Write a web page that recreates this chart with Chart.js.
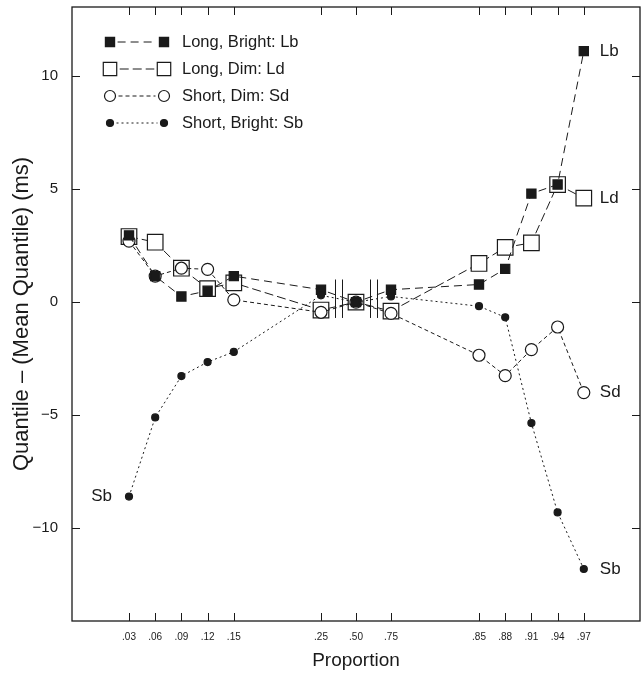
<!DOCTYPE html>
<html>
<head>
<meta charset="utf-8">
<script src="https://cdn.jsdelivr.net/npm/chart.js@4.4.0/dist/chart.umd.min.js"></script>
<style>
  html, body { margin: 0; padding: 0; background: #fff; }
  canvas { display: block; }
</style>
</head>
<body>
<canvas id="myChart" width="643" height="683"></canvas>

<script>
    const proportions = ['.03', '.06', '.09', '.12', '.15', '.25', '.50', '.75', '.85', '.88', '.91', '.94', '.97'];
    const longBright  = [2.95, 1.15, 0.25, 0.5, 1.15, 0.55, 0, 0.55, 0.78, 1.47, 4.8, 5.2, 11.1];
    const longDim     = [2.9, 2.65, 1.5, 0.6, 0.85, -0.35, 0, -0.4, 1.71, 2.42, 2.62, 5.2, 4.6];
    const shortDim    = [2.7, 1.15, 1.5, 1.45, 0.1, -0.45, 0, -0.5, -2.35, -3.25, -2.1, -1.1, -4.0];
    const shortBright = [-8.6, -5.1, -3.27, -2.65, -2.2, 0.3, 0, 0.25, -0.18, -0.67, -5.35, -9.3, -11.8];
    const yTicks = [-10, -5, 0, 5, 10];
    const legendLabels = ['Long, Bright: Lb', 'Long, Dim: Ld', 'Short, Dim: Sd', 'Short, Bright: Sb'];
    const endLabels = ['Lb', 'Ld', 'Sd', 'Sb'];

    const ink = '#1a1a1a';
    const font = "'Liberation Sans', Arial, sans-serif";

    // three clusters of proportions, wider gaps between clusters
    const xPos = proportions.map((p, i) => {
        if (i < 5) return i * 26.2;
        if (i < 8) return 192 + (i - 5) * 35;
        return 350 + (i - 8) * 26.2;
    });
    const pts = arr => arr.map((v, i) => ({x: xPos[i], y: v}));

    const series = [
        {label: legendLabels[0], data: pts(longBright), borderDash: [8, 5], pointStyle: 'rect',
            pointRadius: 6.5, pointBackgroundColor: ink, order: 1, legendRadius: 6.5},
        {label: legendLabels[1], data: pts(longDim), borderDash: [9, 4], pointStyle: 'rect',
            pointRadius: 11, pointBackgroundColor: '#fff', order: 3, legendRadius: 9.5},
        {label: legendLabels[2], data: pts(shortDim), borderDash: [4, 3], pointStyle: 'circle',
            pointRadius: 6, pointBackgroundColor: '#fff', order: 2, legendRadius: 5.5},
        {label: legendLabels[3], data: pts(shortBright), borderDash: [2, 3], pointStyle: 'circle',
            pointRadius: 3.5, pointBackgroundColor: ink, order: 0, legendRadius: 3.5}
    ].map(s => Object.assign({
        borderColor: ink, borderWidth: 1, pointBorderColor: ink, pointBorderWidth: 1.2,
        fill: false, tension: 0
    }, s));

    // keep the plot box where the reference has it
    const noPad = axis => {
        axis.paddingTop = 0; axis.paddingBottom = 0;
        axis.paddingLeft = 0; axis.paddingRight = 0;
    };

    const decorations = {
        id: 'decorations',
        afterDatasetsDraw(chart) {
            const {ctx, chartArea: a, scales: {x, y}} = chart;
            ctx.save();
            ctx.strokeStyle = ink;
            ctx.fillStyle = ink;

            // frame
            ctx.lineWidth = 1.3;
            ctx.strokeRect(a.left, a.top, a.right - a.left, a.bottom - a.top);

            // inward tick marks
            ctx.lineWidth = 1;
            ctx.beginPath();
            xPos.forEach(v => {
                const px = Math.round(x.getPixelForValue(v)) + 0.5;
                ctx.moveTo(px, a.bottom); ctx.lineTo(px, a.bottom - 8);
                ctx.moveTo(px, a.top); ctx.lineTo(px, a.top + 8);
            });
            yTicks.forEach(v => {
                const py = Math.round(y.getPixelForValue(v)) + 0.5;
                ctx.moveTo(a.left, py); ctx.lineTo(a.left + 8, py);
                ctx.moveTo(a.right, py); ctx.lineTo(a.right - 8, py);
            });
            ctx.stroke();

            // scale breaks around .50
            ctx.beginPath();
            [[5, 6], [6, 7]].forEach(([i, j]) => {
                const mid = (x.getPixelForValue(xPos[i]) + x.getPixelForValue(xPos[j])) / 2;
                [-3.3, 3.3].forEach(d => {
                    const px = Math.round(mid + d) + 0.5;
                    ctx.moveTo(px, y.getPixelForValue(1.0));
                    ctx.lineTo(px, y.getPixelForValue(-0.7));
                });
            });
            ctx.stroke();

            // end labels
            ctx.font = '17px ' + font;
            ctx.textBaseline = 'middle';
            ctx.textAlign = 'left';
            chart.data.datasets.forEach((ds, k) => {
                const last = ds.data[ds.data.length - 1];
                ctx.fillText(endLabels[k], x.getPixelForValue(last.x) + 16, y.getPixelForValue(last.y));
            });
            const sbFirst = chart.data.datasets[3].data[0];
            ctx.textAlign = 'right';
            ctx.fillText(endLabels[3], x.getPixelForValue(sbFirst.x) - 17, y.getPixelForValue(sbFirst.y));

            // legend
            ctx.textAlign = 'left';
            chart.data.datasets.forEach((ds, k) => {
                const ly = a.top + 35 + k * 27;
                const x1 = 110, x2 = 164;
                const r = ds.legendRadius;
                const half = ds.pointStyle === 'rect' ? r * Math.SQRT1_2 : r;
                ctx.save();
                ctx.setLineDash(ds.borderDash);
                ctx.lineWidth = 1;
                ctx.beginPath();
                ctx.moveTo(x1 + half + 3, ly);
                ctx.lineTo(x2 - half - 3, ly);
                ctx.stroke();
                ctx.restore();
                [x1, x2].forEach(mx => {
                    ctx.fillStyle = ds.pointBackgroundColor;
                    ctx.strokeStyle = ink;
                    ctx.lineWidth = 1.2;
                    Chart.helpers.drawPoint(ctx, {pointStyle: ds.pointStyle, radius: r, rotation: 0, borderWidth: 1.2}, mx, ly);
                });
                ctx.fillStyle = ink;
                ctx.font = '16.5px ' + font;
                ctx.fillText(ds.label, 182, ly);
            });
            ctx.restore();
        }
    };

    const myChart = new Chart('myChart', {
        type: 'line',
        data: {datasets: series},
        options: {
            responsive: false,
            animation: false,
            devicePixelRatio: 1,
            layout: {autoPadding: false, padding: {top: 7, right: 3, left: 0, bottom: 0}},
            plugins: {legend: {display: false}, tooltip: {enabled: false}},
            scales: {
                x: {
                    type: 'linear',
                    min: -57,
                    max: 511,
                    grid: {display: false, drawTicks: false},
                    border: {display: false},
                    afterBuildTicks: axis => { axis.ticks = xPos.map(v => ({value: v})); },
                    afterFit: axis => { axis.height = 62; noPad(axis); },
                    ticks: {
                        autoSkip: false,
                        maxRotation: 0,
                        padding: 10,
                        color: ink,
                        font: {family: font, size: 10},
                        callback: v => proportions[xPos.indexOf(v)]
                    },
                    title: {display: true, text: 'Proportion', color: ink,
                        font: {family: font, size: 19}, padding: {top: 0, bottom: 11}}
                },
                y: {
                    min: -14.1,
                    max: 13.05,
                    grid: {display: false, drawTicks: false},
                    border: {display: false},
                    afterBuildTicks: axis => { axis.ticks = yTicks.map(v => ({value: v})); },
                    afterFit: axis => { axis.width = 72; noPad(axis); },
                    ticks: {
                        padding: 14,
                        color: ink,
                        font: {family: font, size: 15},
                        callback: v => v < 0 ? '\u2212' + Math.abs(v) : String(v)
                    },
                    title: {display: true, text: 'Quantile \u2013 (Mean Quantile) (ms)', color: ink,
                        font: {family: font, size: 22}, padding: {top: 9, bottom: 0}}
                }
            }
        },
        plugins: [decorations]
    });
</script>
</body>
</html>
